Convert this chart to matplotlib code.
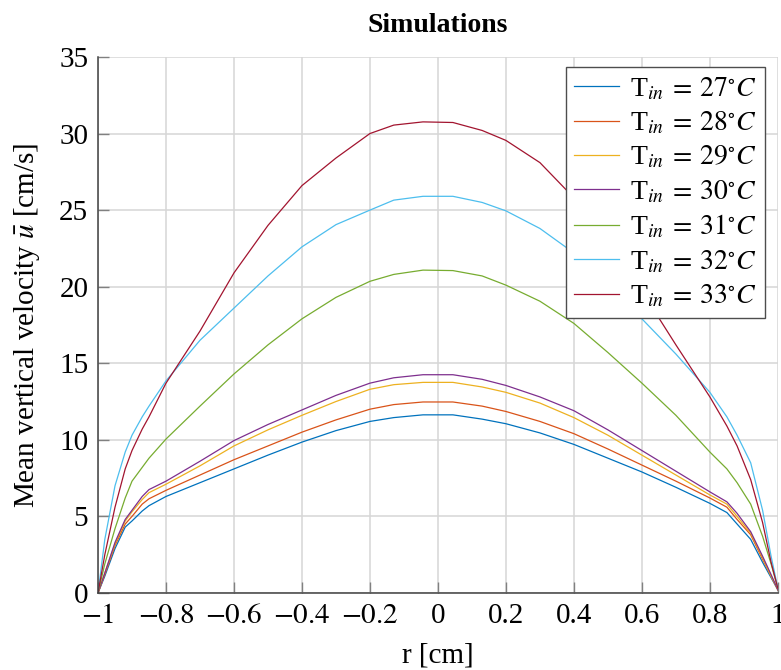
import numpy as np
import matplotlib
matplotlib.use("Agg")
import matplotlib.pyplot as plt

plt.rcParams["font.family"] = "serif"
plt.rcParams["font.serif"] = ["Liberation Serif", "DejaVu Serif"]
plt.rcParams["mathtext.fontset"] = "stix"

# radial positions of the sampled profile points
r = [-1.0, -0.98, -0.95, -0.92, -0.9, -0.87, -0.85, -0.8, -0.7, -0.6, -0.5,
     -0.4, -0.3, -0.2, -0.13, -0.044, 0.044, 0.13, 0.2, 0.3, 0.4, 0.5,
     0.6, 0.7, 0.8, 0.85, 0.88, 0.92, 0.955, 0.98, 1.0]

# mean vertical velocity [cm/s] for each inlet temperature
u_27 = [0.0, 1.1, 2.9, 4.3, 4.7, 5.35, 5.7, 6.3, 7.2, 8.1, 9.0,
        9.85, 10.6, 11.2, 11.45, 11.63, 11.63, 11.35, 11.05, 10.45, 9.7, 8.8,
        7.9, 6.9, 5.85, 5.25, 4.5, 3.5, 2.0, 1.0, 0.2]
u_28 = [0.0, 1.2, 3.1, 4.5, 5.0, 5.8, 6.15, 6.7, 7.7, 8.7, 9.6,
        10.5, 11.3, 12.0, 12.3, 12.47, 12.47, 12.2, 11.85, 11.2, 10.4, 9.4,
        8.35, 7.3, 6.2, 5.6, 4.8, 3.8, 2.2, 1.1, 0.2]
u_29 = [0.0, 1.3, 3.2, 4.7, 5.3, 6.1, 6.55, 7.1, 8.3, 9.6, 10.65,
        11.6, 12.5, 13.3, 13.6, 13.75, 13.75, 13.45, 13.1, 12.4, 11.45, 10.3,
        9.0, 7.7, 6.4, 5.8, 5.0, 3.9, 2.3, 1.1, 0.2]
u_30 = [0.0, 1.3, 3.3, 4.8, 5.4, 6.3, 6.75, 7.3, 8.6, 9.95, 11.0,
        11.95, 12.9, 13.7, 14.05, 14.25, 14.25, 13.95, 13.55, 12.8, 11.9, 10.65,
        9.3, 7.95, 6.6, 5.95, 5.2, 4.0, 2.4, 1.2, 0.2]
u_31 = [0.0, 1.9, 4.2, 6.2, 7.3, 8.2, 8.8, 10.05, 12.2, 14.3, 16.2,
        17.9, 19.3, 20.35, 20.8, 21.08, 21.05, 20.7, 20.1, 19.05, 17.6, 15.7,
        13.7, 11.6, 9.2, 8.1, 7.2, 5.8, 3.7, 1.9, 0.3]
u_32 = [0.0, 3.5, 7.0, 9.2, 10.3, 11.5, 12.2, 13.85, 16.5, 18.6, 20.7,
        22.6, 24.05, 25.0, 25.65, 25.9, 25.9, 25.5, 24.95, 23.8, 22.2, 20.2,
        17.9, 15.6, 13.1, 11.5, 10.3, 8.5, 5.4, 2.4, 0.3]
u_33 = [0.0, 2.5, 5.6, 8.1, 9.3, 10.7, 11.5, 13.7, 17.1, 20.9, 24.0,
        26.6, 28.4, 30.0, 30.55, 30.76, 30.72, 30.2, 29.55, 28.1, 25.8, 23.0,
        19.7, 16.2, 12.8, 10.9, 9.6, 7.4, 4.6, 2.0, 0.3]

temps = [27, 28, 29, 30, 31, 32, 33]
profiles = [u_27, u_28, u_29, u_30, u_31, u_32, u_33]
colors = ["#0072BD", "#D95319", "#EDB120", "#7E2F8E",
          "#77AC30", "#4DBEEE", "#A2142F"]

fig = plt.figure(figsize=(7.81, 6.70), dpi=100)
ax = fig.add_axes([0.1255, 0.115, 0.8705, 0.8])

for T, u, c in zip(temps, profiles, colors):
    ax.plot(r, u, color=c, lw=0.9,
            label=r"T$_{in}\:=\:%d^{\circ}C$" % T)

ax.set_xlim(-1, 1)
ax.set_ylim(0, 35)
ax.set_xticks(np.arange(-1, 1.01, 0.2))
ax.set_xticklabels(["$-1$", "$-0.8$", "$-0.6$", "$-0.4$", "$-0.2$", "0",
                    "0.2", "0.4", "0.6", "0.8", "1"])
ax.set_yticks(range(0, 36, 5))
ax.grid(True, color="0.84", lw=1.1)
ax.set_axisbelow(True)
for side in ["top", "right"]:
    ax.spines[side].set_visible(False)
for side in ["left", "bottom"]:
    ax.spines[side].set_color("0.25")
    ax.spines[side].set_linewidth(1.1)
ax.tick_params(direction="in", length=8, width=1, color="0.5",
               labelsize=21, pad=7)

ax.set_title("Simulations", fontsize=20, fontweight="bold", pad=18)
ax.set_xlabel("r [cm]", fontsize=21, labelpad=10)
ax.set_ylabel(r"Mean vertical velocity $\bar{u}$ [cm/s]", fontsize=21,
              labelpad=12)

leg = ax.legend(loc="upper right", bbox_to_anchor=(0.981, 0.981),
                fontsize=20, fancybox=False, framealpha=1, edgecolor="0.3",
                handlelength=1.6, handletextpad=0.4, labelspacing=0.28,
                borderpad=0.3, borderaxespad=0)
leg.get_frame().set_linewidth(1.0)

fig.savefig("out.png", dpi=100)
